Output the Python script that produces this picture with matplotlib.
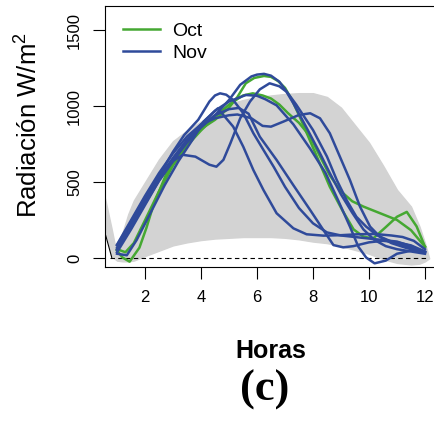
import numpy as np
import matplotlib.pyplot as plt

plt.rcParams['font.family'] = ['Liberation Sans', 'DejaVu Sans']
plt.rcParams['mathtext.default'] = 'regular'

# nube gris: envolvente de todos los dias
cloud_x = [0.9, 1.0, 1.2, 1.4, 1.6, 2.0, 2.5, 3.0, 3.5, 4.0, 4.5, 5.0, 5.5, 6.0, 6.5, 7.0,
           7.5, 8.0, 8.5, 9.0, 9.5, 10.0, 10.5, 11.0, 11.5, 11.8, 12.0, 12.15]
cloud_hi = [0, 60, 170, 290, 380, 500, 650, 770, 840, 900, 950, 1015, 1040, 1060, 1070, 1080,
            1085, 1085, 1060, 990, 875, 760, 610, 450, 340, 210, 100, 0]
cloud_lo = [0, -15, -20, -20, -15, 15, 50, 85, 105, 120, 130, 135, 140, 140, 140, 135,
            125, 110, 100, 80, 55, 30, -5, -30, -40, -35, -20, 0]

# cola del dia anterior (borde izquierdo)
wedge_x = [0.45, 0.6, 0.8, 1.0]
wedge_hi = [480, 370, 200, 20]
wedge_lo = [300, 180, 20, -10]
black_x = [0.56, 0.82]
black_y = [175, 0]

# Octubre
oct_a_x = [1.0, 1.2, 1.45, 1.8, 2.05, 2.3, 2.75, 3.15, 3.6, 4.0, 4.5, 5.0, 5.3, 5.6, 5.9, 6.25,
           6.5, 6.75, 7.0, 7.25, 7.55, 7.9, 8.25, 8.6, 9.05, 9.45, 9.8, 10.15, 10.6, 11.0, 11.35,
           11.7, 12.0]
oct_a_y = [50, 5, -22, 70, 200, 350, 550, 670, 770, 850, 910, 990, 1060, 1150, 1185, 1198,
           1192, 1165, 1120, 1040, 920, 770, 620, 470, 315, 190, 142, 131, 205, 273, 305,
           210, 76]
oct_b_x = [1.0, 1.3, 1.6, 2.0, 2.5, 3.0, 3.5, 4.0, 4.5, 5.0, 5.5, 5.85, 6.2, 6.5, 6.8, 7.1,
           7.5, 7.9, 8.25, 8.6, 9.0, 9.4, 9.8, 10.4, 11.0, 11.5, 12.0]
oct_b_y = [60, 40, 100, 250, 440, 610, 740, 840, 930, 1010, 1070, 1084, 1070, 1050, 1010, 955,
           890, 800, 670, 545, 440, 375, 340, 296, 252, 185, 76]

# Noviembre
nov1_x = [1.0, 1.5, 2.0, 2.5, 3.0, 3.5, 4.0, 4.5, 5.0, 5.4, 5.8, 6.0, 6.25, 6.5, 6.8, 7.4,
          8.0, 8.5, 8.85, 9.2, 9.55, 9.9, 10.3, 10.8, 11.3, 11.7, 12.0]
nov1_y = [40, 190, 350, 510, 640, 760, 860, 940, 1040, 1140, 1195, 1207, 1212, 1200, 1160,
          1010, 843, 668, 514, 383, 273, 208, 150, 110, 80, 60, 40]
nov2_x = [1.0, 1.5, 2.0, 2.5, 3.0, 3.35, 3.8, 4.3, 4.55, 4.8, 5.05, 5.4, 5.75, 6.1, 6.45, 6.8,
          7.05, 7.3, 7.75, 8.25, 8.6, 9.0, 9.4, 9.8, 10.2, 10.6, 11.0, 11.5, 12.0]
nov2_y = [85, 240, 400, 540, 640, 680, 668, 615, 602, 647, 756, 920, 1030, 1110, 1150, 1130,
          1095, 1018, 865, 690, 560, 420, 300, 190, 120, 80, 60, 45, 30]
nov3_x = [1.0, 1.5, 2.0, 2.5, 3.0, 3.4, 3.9, 4.3, 4.5, 4.68, 4.9, 5.15, 5.51, 5.87, 6.23, 6.6,
          7.0, 7.5, 8.0, 8.5, 9.0, 9.5, 10.0, 10.5, 11.0, 11.5, 12.0]
nov3_y = [60, 200, 370, 540, 700, 810, 910, 1030, 1070, 1084, 1075, 1040, 953, 822, 712, 600,
          470, 330, 230, 170, 150, 140, 130, 120, 110, 80, 40]
nov4_x = [1.0, 1.35, 1.7, 2.2, 2.7, 3.2, 3.7, 4.1, 4.6, 5.15, 5.51, 5.87, 6.23, 6.7, 7.3, 7.77,
          8.37, 9.0, 9.6, 10.2, 10.8, 11.2, 11.6, 12.0]
nov4_y = [30, 20, 120, 300, 480, 640, 780, 900, 985, 865, 733, 580, 449, 296, 197, 158,
          149, 152, 158, 160, 150, 140, 115, 60]
nov5_x = [1.0, 1.5, 2.0, 2.5, 3.0, 3.5, 4.0, 4.5, 5.0, 5.35, 5.7, 6.1, 6.7, 7.3, 7.9, 8.37,
          8.73, 9.08, 9.44, 10.0, 10.5, 11.0, 11.5, 12.0]
nov5_y = [55, 210, 360, 510, 640, 770, 870, 940, 980, 988, 950, 799, 646, 480, 317, 186,
          87, 72, 80, 105, 115, 105, 85, 45]
nov6_x = [1.0, 1.5, 2.0, 2.5, 3.0, 3.5, 4.0, 4.5, 5.0, 5.6, 6.0, 6.3, 6.7, 7.3, 7.9, 8.45,
          8.9, 9.32, 9.62, 9.9, 10.2, 10.6, 11.0, 11.5, 12.0]
nov6_y = [70, 220, 380, 530, 660, 780, 880, 970, 1030, 1073, 1068, 1045, 1005, 880, 720, 560,
          380, 208, 76, 5, -33, -15, 30, 50, 40]
nov7_x = [1.0, 1.5, 2.0, 2.5, 3.0, 3.5, 4.0, 4.5, 5.0, 5.3, 5.8, 6.2, 6.5, 6.94, 7.5, 7.9,
          8.25, 8.6, 8.96, 9.32, 9.68, 10.04, 10.4, 10.8, 11.3, 11.7, 12.0]
nov7_y = [90, 250, 410, 560, 690, 800, 880, 920, 940, 945, 920, 870, 865, 898, 942, 953,
          920, 822, 668, 514, 339, 208, 140, 100, 70, 50, 40]

octubre = [(oct_a_x, oct_a_y), (oct_b_x, oct_b_y)]
noviembre = [(nov1_x, nov1_y), (nov2_x, nov2_y), (nov3_x, nov3_y), (nov4_x, nov4_y),
             (nov5_x, nov5_y), (nov6_x, nov6_y), (nov7_x, nov7_y)]

verde = '#45a832'
azul = '#2f4a9a'
gris = '#d3d3d3'

fig = plt.figure(figsize=(4.35, 4.24), dpi=100)
ax = fig.add_axes([0.2414, 0.3703, 0.7639, 0.6167])

ax.fill_between(cloud_x, cloud_lo, cloud_hi, color=gris, lw=1, ec=gris, zorder=1)
ax.fill_between(wedge_x, wedge_lo, wedge_hi, color=gris, lw=1, ec=gris, zorder=1)
ax.plot(black_x, black_y, color='black', lw=0.8, zorder=2)
ax.hlines(0, 0.75, 12.05, colors='black', linestyles=(0, (4, 3)), lw=0.8, zorder=2)

for i, (xs, ys) in enumerate(octubre):
    ax.plot(xs, ys, color=verde, lw=1.8, zorder=3, label='Oct' if i == 0 else None)
for i, (xs, ys) in enumerate(noviembre):
    ax.plot(xs, ys, color=azul, lw=1.8, zorder=4, label='Nov' if i == 0 else None)

ax.set_xlim(0.571, 12.44)
ax.set_ylim(-57, 1661)
ax.set_xticks([2, 4, 6, 8, 10, 12])
ax.set_yticks([0, 500, 1000, 1500])
ax.tick_params(direction='out', length=8.5, width=0.8, labelsize=12, pad=8)
for lab in ax.get_yticklabels():
    lab.set_rotation(90)
    lab.set_va('center')
for s in ax.spines.values():
    s.set_linewidth(0.8)

ax.set_ylabel('Radiación W/m$^{2}$', fontsize=18.5)
ax.yaxis.set_label_coords(-0.187, 0.543)

leg = ax.legend(loc='upper left', bbox_to_anchor=(0.055, 0.935), frameon=False, fontsize=14,
                handlelength=1.9, handletextpad=0.6, labelspacing=0.2, borderpad=0,
                borderaxespad=0)

fig.text(271 / 435, 1 - 358.3 / 424, 'Horas', fontsize=18, fontweight='bold',
         ha='center', va='baseline')
fig.text(265 / 435, 1 - 401 / 424, '(c)', fontsize=32, fontweight='bold',
         family='Liberation Serif', ha='center', va='baseline')

fig.savefig('out.png', dpi=100)
